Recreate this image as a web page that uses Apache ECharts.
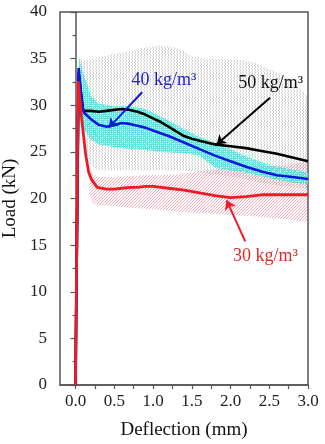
<!DOCTYPE html>
<html><head><meta charset="utf-8">
<script src="https://cdn.jsdelivr.net/npm/echarts@6/dist/echarts.min.js"></script>
<style>html,body{margin:0;padding:0;background:#fff}#c{width:325px;height:444px}</style>
</head><body><div id="c"></div>
<script>
// ---- data ----
const xTicks = [0, 0.25, 0.5, 0.75, 1.0, 1.25, 1.5, 1.75, 2.0, 2.25, 2.5, 2.75, 3.0];
const xTickLabels = [0, 0.5, 1.0, 1.5, 2.0, 2.5, 3.0];

const meanX50 = [0, 0.04, 0.1, 0.2, 0.3, 0.4, 0.5, 0.6, 0.7, 0.8, 0.9, 1.0, 1.1, 1.2, 1.3, 1.4, 1.5, 1.6, 1.8, 2.0, 2.2, 2.4, 2.6, 2.8, 3.0];
const meanY50 = [0, 33.5, 29.4, 29.4, 29.3, 29.4, 29.5, 29.6, 29.5, 29.3, 29.0, 28.6, 28.2, 27.7, 27.2, 26.7, 26.4, 26.2, 25.8, 25.6, 25.4, 25.1, 24.8, 24.4, 24.0];

const meanX40 = [0, 0.04, 0.085, 0.11, 0.2, 0.3, 0.4, 0.5, 0.6, 0.7, 0.8, 0.9, 1.0, 1.2, 1.4, 1.6, 1.8, 2.0, 2.2, 2.4, 2.6, 2.8, 3.0];
const meanY40 = [0, 34.0, 30.0, 29.2, 28.5, 27.9, 27.7, 27.9, 28.1, 28.0, 27.8, 27.6, 27.3, 26.7, 26.0, 25.3, 24.6, 24.0, 23.4, 22.9, 22.5, 22.3, 22.1];

const meanX30 = [0, 0.035, 0.08, 0.13, 0.17, 0.21, 0.28, 0.4, 0.5, 0.6, 0.7, 0.8, 0.9, 1.0, 1.2, 1.4, 1.6, 1.8, 2.0, 2.2, 2.4, 2.6, 2.8, 3.0];
const meanY30 = [0, 32.6, 28.5, 24.8, 22.8, 22.0, 21.2, 21.0, 21.0, 21.1, 21.2, 21.2, 21.3, 21.3, 21.1, 20.9, 20.6, 20.3, 20.1, 20.2, 20.4, 20.4, 20.4, 20.4];

const bandX50 = [0.05, 0.1, 0.2, 0.3, 0.5, 0.7, 0.9, 1.1, 1.3, 1.4, 1.5, 1.7, 1.9, 2.1, 2.3, 2.5, 2.7, 2.9, 3.0];
const bandHi50 = [35.0, 34.8, 34.9, 35.1, 35.5, 35.8, 36.2, 36.4, 36.2, 35.8, 35.2, 35.0, 35.0, 34.9, 34.6, 33.9, 33.2, 31.8, 31.0];
const bandLo50 = [29.0, 26.0, 23.5, 23.0, 23.0, 23.0, 23.0, 23.0, 23.0, 23.0, 22.9, 22.7, 22.5, 22.2, 21.9, 21.5, 21.3, 21.1, 21.0];

const bandX40 = [0.03, 0.05, 0.1, 0.2, 0.3, 0.5, 0.7, 0.9, 1.1, 1.3, 1.45, 1.6, 1.8, 2.0, 2.2, 2.5, 2.8, 3.0];
const bandHi40 = [33.0, 35.2, 33.5, 31.0, 30.2, 29.9, 29.9, 29.6, 28.8, 27.9, 27.2, 26.6, 26.0, 25.3, 24.5, 23.6, 23.1, 22.8];
const bandLo40 = [31.0, 29.0, 27.5, 26.3, 25.8, 25.5, 25.3, 25.2, 25.0, 24.9, 24.8, 24.6, 23.3, 23.0, 22.8, 22.2, 21.7, 21.5];

const bandX30 = [0.18, 0.22, 0.3, 0.5, 0.7, 0.9, 1.1, 1.3, 1.5, 1.7, 1.9, 2.1, 2.3, 2.5, 2.7, 2.9, 3.0];
const bandHi30 = [23.5, 22.6, 22.3, 22.3, 22.4, 22.5, 22.5, 22.6, 22.8, 23.0, 23.2, 23.3, 23.4, 23.5, 23.6, 23.8, 24.0];
const bandLo30 = [20.5, 19.5, 19.3, 19.2, 19.0, 18.9, 18.8, 18.6, 18.5, 18.4, 18.3, 18.2, 18.1, 17.9, 17.8, 17.6, 17.5];

// ---- helpers ----
const zip = (xs, ys) => xs.map((x, i) => [x, ys[i]]);
function pat(color, cells, w, h) {
  const c = document.createElement('canvas'); c.width = w; c.height = h;
  const g = c.getContext('2d'); g.fillStyle = color;
  cells.forEach(([x, y]) => g.fillRect(x, y, 1, 1));
  return { image: c, repeat: 'repeat' };
}
const FONT = '"Liberation Serif", "Times New Roman", serif';
const RED = '#ee1b24', BLUE = '#1414dc', BLACK = '#000';

function band(xs, hi, lo, fill) {
  return {
    type: 'custom', silent: true, z: 1, clip: true,
    data: [[xs[0], hi[0]]],
    renderItem: (params, api) => {
      const top = xs.map((x, i) => api.coord([x, hi[i]]));
      const bot = xs.map((x, i) => api.coord([x, lo[i]])).reverse();
      return { type: 'polygon', shape: { points: top.concat(bot) }, style: { fill: fill }, silent: true };
    }
  };
}
function label(coord, text, color) {
  return { coord, symbol: 'circle', symbolSize: 1, itemStyle: { color: 'rgba(0,0,0,0)' },
    label: { show: true, position: 'inside', formatter: text, color, fontSize: 18, fontFamily: FONT } };
}
function arrow(from, to, color) {
  return {
    symbol: ['none', 'arrow'], symbolSize: 9, silent: true, animation: false,
    label: { show: false }, lineStyle: { color, width: 2, type: 'solid' },
    data: [[{ coord: from }, { coord: to }]]
  };
}

const chart = echarts.init(document.getElementById('c'));
chart.setOption({
  animation: false,
  grid: { left: 60, right: 17, top: 12, bottom: 59, show: true, borderColor: '#555', borderWidth: 1.5,
          containLabel: false, outerBoundsMode: 'none' },
  xAxis: {
    type: 'value', min: -0.2, max: 3.0,
    name: 'Deflection (mm)', nameLocation: 'middle', nameGap: 36,
    nameTextStyle: { fontFamily: FONT, fontSize: 19, color: '#111' },
    axisLine: { lineStyle: { color: '#555', width: 1.5 } },
    axisTick: { show: true, length: 4, customValues: xTicks, lineStyle: { color: '#555', width: 1.2 } },
    axisLabel: { customValues: xTickLabels, formatter: v => v.toFixed(1), fontFamily: FONT, fontSize: 17, color: '#222', margin: 8 },
    splitLine: { show: false }
  },
  yAxis: {
    type: 'value', min: 0, max: 40, interval: 5,
    name: 'Load (kN)', nameLocation: 'middle', nameGap: 40,
    nameTextStyle: { fontFamily: FONT, fontSize: 19, color: '#111' },
    axisLine: { show: true, lineStyle: { color: '#555', width: 1.5 } },
    axisTick: { show: true, length: 5, lineStyle: { color: '#555', width: 1.2 } },
    minorTick: { show: true, splitNumber: 2, length: 3, lineStyle: { color: '#555', width: 1.2 } },
    axisLabel: { fontFamily: FONT, fontSize: 17, color: '#222', margin: 13 },
    splitLine: { show: false }
  },
  series: [
    band(bandX50, bandHi50, bandLo50, pat('rgba(150,150,150,0.45)', [[0,0],[0,1],[2,2]], 3, 3)),
    band(bandX30, bandHi30, bandLo30, pat('rgba(230,85,120,0.5)', [[0,0],[2,1],[1,2]], 3, 3)),
    band(bandX40, bandHi40, bandLo40, pat('rgba(80,224,224,0.85)', [[0,0],[1,1],[1,0]], 2, 2)),
    { name: '50', type: 'line', data: zip(meanX50, meanY50), symbol: 'none', z: 3,
      lineStyle: { color: BLACK, width: 2.6 },
      markLine: arrow([2.51, 30.8], [1.82, 25.8], BLACK),
      markPoint: { data: [label([2.52, 32.4], '50 kg/m³', '#111')] } },
    { name: '40', type: 'line', data: zip(meanX40, meanY40), symbol: 'none', z: 4,
      lineStyle: { color: BLUE, width: 2.6 },
      markLine: arrow([0.86, 31.4], [0.43, 27.6], BLUE),
      markPoint: { data: [label([1.14, 32.7], '40 kg/m³', '#1f1fc8')] } },
    { name: '30', type: 'line', data: zip(meanX30, meanY30), symbol: 'none', z: 5,
      lineStyle: { color: RED, width: 2.8 },
      markLine: arrow([2.19, 15.4], [1.95, 19.8], RED),
      markPoint: { data: [label([2.45, 13.8], '30 kg/m³', '#dd2a2a')] } }
  ]
});
</script></body></html>
